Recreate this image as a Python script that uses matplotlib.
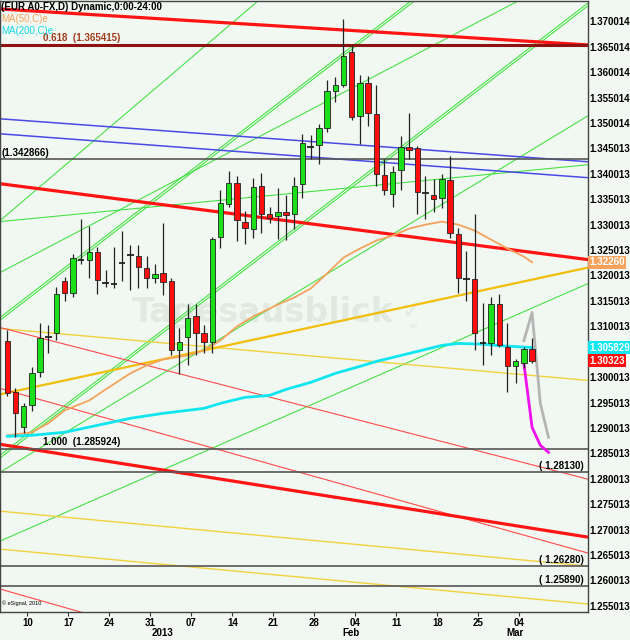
import matplotlib
matplotlib.use('Agg')
import matplotlib.pyplot as plt
import pandas as pd
from matplotlib.patches import Rectangle

plt.rcParams['font.family'] = ['Liberation Sans', 'DejaVu Sans']

# daily bars, 6 Dec 2012 .. 6 Mar 2013
dates = pd.bdate_range('2012-12-06', '2013-03-06')

opens = [1.30703, 1.29701, 1.29014, 1.29446, 1.30094, 1.30782, 1.30860, 1.31901, 1.31665, 1.32314,
         1.32314, 1.32471, 1.31862, 1.31842, 1.32255, 1.32412, 1.32392, 1.32156, 1.31960, 1.32058,
         1.31901, 1.30526, 1.30782, 1.31194, 1.30860, 1.30684, 1.32765, 1.33413, 1.33826, 1.33060,
         1.32922, 1.33767, 1.33217, 1.33178, 1.33256, 1.33217, 1.33806, 1.34533, 1.34572, 1.34906,
         1.35633, 1.35750, 1.36398, 1.35142, 1.35790, 1.35181, 1.33983, 1.33610, 1.34081, 1.34533,
         1.34513, 1.33629, 1.33590, 1.33531, 1.33885, 1.32824, 1.31940, 1.31940, 1.30664, 1.30664,
         1.31430, 1.30585, 1.30212, 1.30271, 1.30546]
highs = [1.30919, 1.29780, 1.29486, 1.30193, 1.31057, 1.31017, 1.31783, 1.31980, 1.32431, 1.33119,
         1.32981, 1.32569, 1.32117, 1.32569, 1.32883, 1.32608, 1.32608, 1.32392, 1.32235, 1.33040,
         1.31960, 1.30958, 1.31449, 1.31449, 1.31017, 1.32765, 1.33688, 1.34061, 1.33963, 1.33276,
         1.33924, 1.34022, 1.33354, 1.33728, 1.33590, 1.33944, 1.34788, 1.34768, 1.34984, 1.35849,
         1.35907, 1.37047, 1.36536, 1.35947, 1.35927, 1.35750, 1.34297, 1.34160, 1.34749, 1.35200,
         1.34552, 1.33963, 1.33904, 1.34003, 1.34356, 1.32942, 1.32490, 1.33217, 1.31469, 1.31587,
         1.31646, 1.31057, 1.30350, 1.30585, 1.30762]
lows = [1.29623, 1.28818, 1.28896, 1.29328, 1.29996, 1.30467, 1.30723, 1.31508, 1.31587, 1.32235,
        1.31960, 1.31646, 1.31783, 1.31764, 1.31901, 1.31724, 1.31764, 1.31764, 1.31862, 1.31626,
        1.30428, 1.30055, 1.30232, 1.30428, 1.30467, 1.30467, 1.32549, 1.33354, 1.32687, 1.32628,
        1.32746, 1.32844, 1.33040, 1.32726, 1.32706, 1.32922, 1.33531, 1.34297, 1.34199, 1.34827,
        1.35417, 1.35711, 1.35063, 1.34592, 1.34945, 1.33767, 1.33590, 1.33354, 1.33688, 1.34297,
        1.33217, 1.33119, 1.33256, 1.33335, 1.32746, 1.31665, 1.31508, 1.30526, 1.30232, 1.30428,
        1.30585, 1.29701, 1.29878, 1.30173, 1.30280]
closes = [1.29682, 1.29289, 1.29427, 1.30075, 1.30762, 1.30801, 1.31646, 1.31665, 1.32353, 1.32333,
          1.32471, 1.31921, 1.31842, 1.31823, 1.32274, 1.32431, 1.32176, 1.31960, 1.32039, 1.31881,
          1.30526, 1.30684, 1.31174, 1.30860, 1.30684, 1.32726, 1.33433, 1.33826, 1.33099, 1.32942,
          1.33747, 1.33217, 1.33138, 1.33256, 1.33197, 1.33767, 1.34611, 1.34513, 1.34906, 1.35633,
          1.35750, 1.36320, 1.35122, 1.35790, 1.35200, 1.34003, 1.33688, 1.34042, 1.34533, 1.34474,
          1.33649, 1.33610, 1.33512, 1.33904, 1.32844, 1.31960, 1.31921, 1.30860, 1.30684, 1.31430,
          1.30625, 1.30212, 1.30310, 1.30546, 1.30323]

# moving averages (bar index, value)
ma50_idx = [0, 3, 5, 7, 10, 12, 15, 17, 19, 22, 24, 26, 28, 30, 33, 35, 37, 39, 41, 43, 45, 47,
            49, 51, 53, 55, 57, 59, 61, 63, 64]
ma50_val = [1.28857, 1.28916, 1.29093, 1.29348, 1.29544, 1.29760, 1.30075, 1.30232, 1.30350,
            1.30428, 1.30526, 1.30723, 1.30998, 1.31194, 1.31430, 1.31567, 1.31744, 1.32039,
            1.32353, 1.32530, 1.32687, 1.32785, 1.32922, 1.33001, 1.33060, 1.33001, 1.32883,
            1.32706, 1.32530, 1.32372, 1.32260]
ma200_idx = [0, 3, 7, 11, 15, 19, 24, 26, 29, 32, 34, 37, 40, 43, 45, 49, 51, 53, 55, 58, 60, 64]
ma200_val = [1.28837, 1.28857, 1.28916, 1.29053, 1.29191, 1.29289, 1.29387, 1.29486, 1.29603,
             1.29643, 1.29760, 1.29898, 1.30075, 1.30212, 1.30310, 1.30467, 1.30546, 1.30625,
             1.30664, 1.30650, 1.30620, 1.305829]

# projections
proj_gray_idx = [63, 64, 65, 66]
proj_gray_val = [1.30720, 1.31273, 1.29486, 1.28818]
proj_mag_idx = [63, 64, 65, 66]
proj_mag_val = [1.30271, 1.29014, 1.28661, 1.28523]

# trend lines: (value at left edge, value at right edge)
red_thick = [(1.37243, 1.36536), (1.33806, 1.32313), (1.28680, 1.26854)]
red_thin = [(1.30978, 1.27993), (1.29780, 1.26540), (1.25833, 1.22533)]
blue_lines = [(1.35083, 1.34238), (1.34788, 1.33924)]
gold_line = (1.29662, 1.32156)
yellow_lines = [(1.30958, 1.29937), (1.27365, 1.26284), (1.26618, 1.25538)]
green_single = [(1.33079, 1.42928), (1.33060, 1.34179), (1.32058, 1.38122),
                (1.28130, 1.35142), (1.26775, 1.31842)]
green_pairs = [(1.31174, 1.40085), (1.28464, 1.37361)]

fib_618 = 1.365415
fib_100 = 1.285924
level_a = 1.342866
levels_right = [1.28130, 1.26280, 1.25890]

ytick_vals = [1.370014, 1.365014, 1.360014, 1.355014, 1.350014, 1.345013, 1.340013, 1.335013,
              1.330013, 1.325013, 1.320013, 1.315013, 1.310013, 1.300013, 1.295013,
              1.290013, 1.285013, 1.280013, 1.275013, 1.270013, 1.265013, 1.260013, 1.255013]

bg = '#F1F7F1'
fs = 7
fig = plt.figure(figsize=(6.3, 6.4), dpi=100)
fig.patch.set_facecolor(bg)
ax = fig.add_axes([0.0, 28 / 640, 588 / 630, 611 / 640])
ax.set_facecolor(bg)
x0, x1 = -0.89, 70.82
ax.set_xlim(x0, x1)
ax.set_ylim(1.25381, 1.37400)

# watermark
ax.text(0.447, 0.49, 'Tagesausblick', transform=ax.transAxes, fontsize=24, fontweight='bold',
        color='#E1EAE1', ha='center', va='center', family='DejaVu Sans', zorder=0.5)
ax.text(0.70, 0.492, '\u2713', transform=ax.transAxes, fontsize=17, color='#E1EAE1',
        ha='center', va='center', family='DejaVu Sans', zorder=0.5)
ax.text(0.695, 0.468, 'de', transform=ax.transAxes, fontsize=6, color='#E1EAE1',
        ha='left', va='center', zorder=0.5)

def tline(vals, **kw):
    ax.plot([x0, x1], list(vals), solid_capstyle='butt', **kw)

for v in green_single:
    tline(v, color='#3EE03E', lw=0.75, zorder=2)
for v in green_pairs:
    tline(v, color='#3EE03E', lw=0.75, zorder=2)
    tline((v[0] - 0.00055, v[1] - 0.00055), color='#3EE03E', lw=0.75, zorder=2)
for v in yellow_lines:
    tline(v, color='#F2D23C', lw=1.0, zorder=2)
tline(gold_line, color='#F2BE0A', lw=1.6, zorder=2)
for v in blue_lines:
    tline(v, color='#4A4AE6', lw=1.1, zorder=2)
for v in red_thin:
    tline(v, color='#FF4A4A', lw=0.8, zorder=2)
for v in red_thick:
    tline(v, color='#FF1414', lw=2.3, zorder=2.2)

ax.axhline(fib_618, color='#8E1212', lw=2.2, zorder=2.3)
for v in [level_a, fib_100] + levels_right:
    ax.axhline(v, color='#555555', lw=1.2, zorder=2.3)

ax.plot(ma50_idx, ma50_val, color='#F5A35C', lw=1.3, zorder=3)
ax.plot(ma200_idx, ma200_val, color='#10E6F0', lw=2.0, zorder=3)
ax.plot(proj_gray_idx, proj_gray_val, color='#B5B5B5', lw=2.0, zorder=3)
ax.plot(proj_mag_idx, proj_mag_val, color='#EE10EE', lw=2.0, zorder=3)

# candles
for i, (o, h, l, c) in enumerate(zip(opens, highs, lows, closes)):
    ax.vlines(i, l, h, color='#222222', lw=0.9, zorder=4)
    if abs(c - o) < 0.0003:
        ax.hlines(o, i - 0.4, i + 0.4, color='#222222', lw=1.3, zorder=5)
    else:
        col = '#19E019' if c > o else '#FF0E0E'
        ax.add_patch(Rectangle((i - 0.32, min(o, c)), 0.64, abs(c - o), facecolor=col,
                               edgecolor='#222222', lw=0.6, zorder=5))

# level labels
ax.text(-0.75, level_a + 0.0003, '(1.342866)', fontsize=fs, fontweight='bold', va='bottom')
ax.text(4.3, fib_618 + 0.0003, '0.618  (1.365415)', fontsize=fs, fontweight='bold',
        color='#A03A1A', va='bottom')
ax.text(4.3, fib_100 + 0.0003, '1.000  (1.285924)', fontsize=fs, fontweight='bold', va='bottom')
for v in levels_right:
    ax.text(64.8, v + 0.0002, '( %.5f)' % v, fontsize=fs, fontweight='bold', va='bottom')

fig.text(1 / 630, 1 - 7 / 640, '(EUR A0-FX,D) Dynamic,0:00-24:00', fontsize=fs,
         fontweight='bold', va='center')
fig.text(1 / 630, 1 - 19 / 640, 'MA(50,C)e', fontsize=fs, color='#F5A35C', va='center')
fig.text(1 / 630, 1 - 31 / 640, 'MA(200,C)e', fontsize=fs, color='#10D8E8', va='center')
ax.text(0.004, 0.012, '\u00a9 eSignal, 2010', transform=ax.transAxes, fontsize=4)

# price axis on the right
ax.yaxis.tick_right()
ax.set_yticks(ytick_vals)
ax.set_yticklabels(['%.6f' % v for v in ytick_vals], fontsize=fs, fontweight='bold')
ax.tick_params(axis='y', length=0, pad=1)

tr = ax.get_yaxis_transform()
for v, txt, col in [(ma50_val[-1], '1.32260', '#F5A35C'), (ma200_val[-1], '1.305829', '#10E6F0'),
                    (closes[-1], '1.30323', '#FF0E0E')]:
    ax.text(1.002, v, txt, transform=tr, fontsize=fs, fontweight='bold', color='white',
            va='center', ha='left',
            bbox=dict(boxstyle='square,pad=0.15', fc=col, ec='none'), clip_on=False)

# date axis
mondays = [i for i, d in enumerate(dates) if d.weekday() == 0]
ax.set_xticks([i + 0.45 for i in mondays])
ax.set_xticklabels(['%02d' % dates[i].day for i in mondays], fontsize=fs, fontweight='bold')
ax.tick_params(axis='x', length=3, pad=1.5, color='#333333')
trx = ax.get_xaxis_transform()
month_first = [i for i in range(1, len(dates)) if dates[i].month != dates[i - 1].month]
for i in month_first:
    name = '2013' if dates[i].month == 1 else dates[i].strftime('%b')
    ax.text(i + 0.9, -0.034, name, transform=trx, fontsize=fs, fontweight='bold',
            ha='center', va='center')

for s in ax.spines.values():
    s.set_color('#444444')
    s.set_linewidth(1.0)

fig.savefig('out.png', dpi=100, facecolor=bg)
